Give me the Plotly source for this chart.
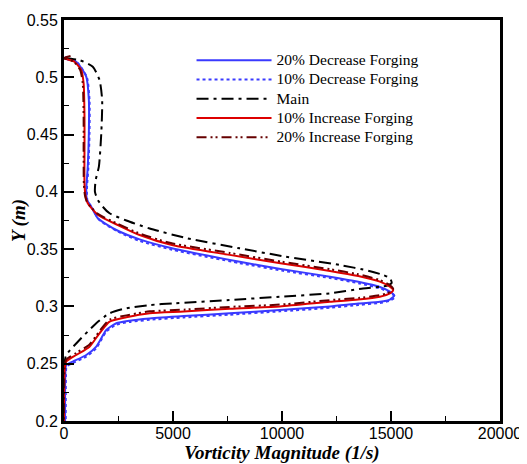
import plotly.graph_objects as go

# ---- data ----
names = ["20% Decrease Forging", "10% Decrease Forging", "Main",
         "10% Increase Forging", "20% Increase Forging"]

x_dec20 = [150, 0, 560, 1020, 1140, 1140, 1090, 1020, 1050, 1250, 1550, 2400, 3470, 4950, 8060, 10000, 12200, 13500, 14490, 14950, 15150, 14950, 14490, 13500, 12200, 9900, 7600, 5500, 3930, 3010, 2400, 1940, 1480, 1020, 400, 100, 60, 50]
y_dec20 = [0.5175, 0.5166, 0.5136, 0.5005, 0.4802, 0.4511, 0.422, 0.4016, 0.393, 0.387, 0.377, 0.3667, 0.3585, 0.3508, 0.339, 0.3325, 0.326, 0.3215, 0.317, 0.313, 0.3095, 0.306, 0.304, 0.3025, 0.300, 0.2969, 0.294, 0.2916, 0.2895, 0.2876, 0.2853, 0.2794, 0.2649, 0.2576, 0.2518, 0.2488, 0.24, 0.2]

x_dec10 = [150, 0, 580, 1050, 1170, 1170, 1120, 1050, 1080, 1300, 1600, 2450, 3470, 4950, 8060, 10000, 12200, 13500, 14490, 14950, 15200, 14950, 14490, 13500, 12200, 9900, 7600, 5500, 3930, 3010, 2400, 1940, 1480, 1020, 400, 120, 90, 80]
y_dec10 = [0.5175, 0.5166, 0.5134, 0.5, 0.4802, 0.4511, 0.422, 0.4016, 0.392, 0.386, 0.3758, 0.3655, 0.3572, 0.3495, 0.3378, 0.3313, 0.3248, 0.3203, 0.3158, 0.3118, 0.3085, 0.305, 0.303, 0.3013, 0.2988, 0.2957, 0.2928, 0.2904, 0.2883, 0.2864, 0.2841, 0.278, 0.2635, 0.2562, 0.2505, 0.2475, 0.24, 0.2]

x_main = [0, 710, 1320, 1630, 1750, 1710, 1600, 1450, 1420, 1550, 1780, 2090, 2860, 3930, 5650, 8060, 10000, 12650, 14000, 14640, 14950, 15030, 14800, 14490, 13720, 12190, 9900, 7600, 5000, 3930, 2860, 2090, 1480, 710, 100, 20, 0, 0]
y_main = [0.5166, 0.515, 0.5092, 0.4976, 0.4802, 0.4511, 0.422, 0.41, 0.40, 0.393, 0.387, 0.3813, 0.375, 0.368, 0.3595, 0.3507, 0.344, 0.3362, 0.331, 0.3274, 0.3246, 0.3205, 0.318, 0.3172, 0.3157, 0.3114, 0.3085, 0.3056, 0.3027, 0.3012, 0.2984, 0.294, 0.2853, 0.2707, 0.2576, 0.25, 0.245, 0.2]

x_inc10 = [150, 0, 480, 790, 900, 940, 940, 940, 990, 1090, 1560, 2470, 3470, 4950, 7600, 10000, 12200, 13500, 14490, 14950, 15100, 14950, 14490, 13500, 12190, 9900, 7600, 5500, 3930, 2860, 2090, 1630, 1170, 560, 100, 30, 0]
y_inc10 = [0.5175, 0.5166, 0.5136, 0.5064, 0.4947, 0.4656, 0.4365, 0.4075, 0.396, 0.39, 0.3798, 0.371, 0.3623, 0.3536, 0.345, 0.3375, 0.331, 0.3265, 0.3216, 0.3172, 0.3143, 0.3114, 0.3085, 0.306, 0.304, 0.300, 0.298, 0.2955, 0.294, 0.2905, 0.2867, 0.2765, 0.2649, 0.2576, 0.2518, 0.245, 0.2]

x_inc20 = [300, 0, 430, 740, 860, 900, 900, 910, 960, 1060, 1520, 2420, 3420, 4900, 7600, 10000, 12200, 13500, 14490, 14950, 15100, 14950, 14490, 13500, 12190, 9900, 7600, 5500, 3930, 2860, 2090, 1630, 1170, 560, 100, 30, 0]
y_inc20 = [0.5185, 0.5168, 0.5138, 0.5066, 0.4947, 0.4656, 0.4365, 0.4075, 0.397, 0.391, 0.3812, 0.3725, 0.364, 0.3553, 0.3467, 0.339, 0.3325, 0.328, 0.323, 0.3185, 0.3153, 0.3125, 0.3098, 0.3074, 0.3055, 0.3016, 0.2996, 0.2972, 0.2957, 0.2922, 0.2885, 0.2785, 0.2668, 0.2594, 0.2535, 0.2465, 0.2]

x_ticks = [0, 5000, 10000, 15000, 20000]
y_ticks = [0.2, 0.25, 0.3, 0.35, 0.4, 0.45, 0.5, 0.55]

series = [
    (x_dec20, y_dec20, names[0], "#3a3aff", "solid"),
    (x_dec10, y_dec10, names[1], "#3a3aff", "dot"),
    (x_main, y_main, names[2], "#000000", "12px,5px,3px,5px"),
    (x_inc10, y_inc10, names[3], "#dd0000", "solid"),
    (x_inc20, y_inc20, names[4], "#660000", "10px,4px,2px,3px,2px,4px"),
]

fig = go.Figure()
for xs, ys, nm, col, dash in series:
    fig.add_trace(go.Scatter(
        x=xs, y=ys, name=f"<span style='font-size:15.5px'>{nm}</span>", mode="lines",
        line=dict(color=col, width=2, dash=dash, shape="spline", smoothing=0.6),
    ))

tick_font = dict(family="Arial, Liberation Sans, sans-serif", size=16, color="black")
title_font = dict(family="Times New Roman, Liberation Serif, serif", size=19, color="black")

# the page body adds an 8px margin, so the figure is 8px smaller and left/top margins shifted
fig.update_layout(
    width=519, height=456,
    margin=dict(l=56, r=27, t=12, b=43),
    paper_bgcolor="white", plot_bgcolor="white",
    showlegend=True,
    legend=dict(
        x=0.2925, y=0.936, xanchor="left", yanchor="top",
        font=dict(family="Times New Roman, Liberation Serif, serif", size=12.5, color="black"),
        bgcolor="rgba(0,0,0,0)", itemwidth=75, tracegroupgap=0,
    ),
)
fig.update_xaxes(
    range=[0, 20000], tickvals=x_ticks, ticktext=[str(v) for v in x_ticks],
    showgrid=False, zeroline=False, automargin=False,
    showline=True, linewidth=3, linecolor="black", mirror=True,
    ticks="inside", ticklen=10, tickwidth=2, tickcolor="black",
    minor=dict(ticks="inside", ticklen=5, tickwidth=1, tickcolor="black", dtick=2500, showgrid=False),
    tickfont=tick_font, ticklabelstandoff=-4,
    title=dict(text="<b><i>Vorticity Magnitude (1/s)</i></b>", font=title_font, standoff=11),
)
fig.update_yaxes(
    range=[0.2, 0.55], tickvals=y_ticks, ticktext=[f"{v:g}" for v in y_ticks],
    showgrid=False, zeroline=False, automargin=False,
    showline=True, linewidth=3, linecolor="black", mirror=True,
    ticks="inside", ticklen=10, tickwidth=2, tickcolor="black",
    minor=dict(ticks="inside", ticklen=5, tickwidth=1, tickcolor="black", dtick=0.025, showgrid=False),
    tickfont=tick_font,
    title=dict(text="<b><i>Y (m)</i></b>", font=title_font, standoff=10),
)

fig.write_html("out.html")
